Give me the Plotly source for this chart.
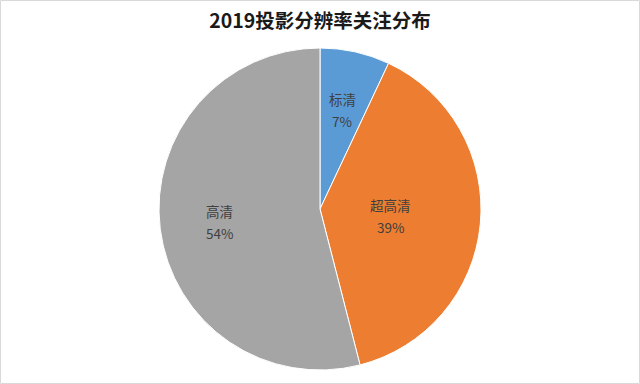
import math
import plotly.graph_objects as go

categories = ["标清", "超高清", "高清"]
values = [7, 39, 54]
colors = ["#5B9BD5", "#ED7D31", "#A5A5A5"]
label_radius = [0.63, 0.44, 0.63]  # fraction of pie radius where each label sits

W, H = 640, 384
ml, mr, mt, mb = 0, 0, 48, 14
pw, ph = W - ml - mr, H - mt - mb
R = min(pw, ph) / 2

fig = go.Figure(go.Pie(
    labels=categories,
    values=values,
    sort=False,
    direction="clockwise",
    rotation=0,
    marker=dict(colors=colors, line=dict(color="#FFFFFF", width=1)),
    textinfo="none",
    showlegend=False,
    hoverinfo="skip",
))

label_font = dict(family="Noto Sans CJK SC", size=13.5, color="#404040")
total = sum(values)
cum = 0
for cat, v, rf in zip(categories, values, label_radius):
    mid = (cum + v / 2) / total * 2 * math.pi
    cum += v
    dx = math.sin(mid) * rf * R
    dy = math.cos(mid) * rf * R
    x, y = 0.5 + dx / pw, 0.5 + dy / ph
    fig.add_annotation(
        x=x, y=y, xref="paper", yref="paper", text=cat,
        showarrow=False, xanchor="center", yanchor="bottom", borderpad=0,
        font=label_font,
    )
    fig.add_annotation(
        x=x, y=y, xref="paper", yref="paper",
        text=f"{round(v / total * 100)}%",
        showarrow=False, xanchor="center", yanchor="top", borderpad=0,
        font=label_font,
    )

fig.update_layout(
    width=W, height=H,
    margin=dict(l=ml, r=mr, t=mt, b=mb),
    paper_bgcolor="#FFFFFF",
    plot_bgcolor="#FFFFFF",
    title=dict(
        text="<b>2019投影分辨率关注分布</b>",
        x=0.5, xanchor="center",
        y=1 - 21 / H, yanchor="middle",
        font=dict(family="Noto Sans CJK SC", size=19.5, color="#1a1a1a"),
    ),
)

fig.add_shape(
    type="rect", xref="paper", yref="paper",
    x0=(-ml + 0.5) / pw, x1=(pw + mr - 0.5) / pw,
    y0=(-mb + 0.5) / ph, y1=(ph + mt - 0.5) / ph,
    line=dict(color="#D9D9D9", width=1), fillcolor="rgba(0,0,0,0)",
)

fig.write_html("out.html", config={"displayModeBar": False})

with open("out.html", "r", encoding="utf-8") as f:
    html = f.read()
html = html.replace("<body>", '<body style="margin:0;padding:0;overflow:hidden">', 1)
with open("out.html", "w", encoding="utf-8") as f:
    f.write(html)
